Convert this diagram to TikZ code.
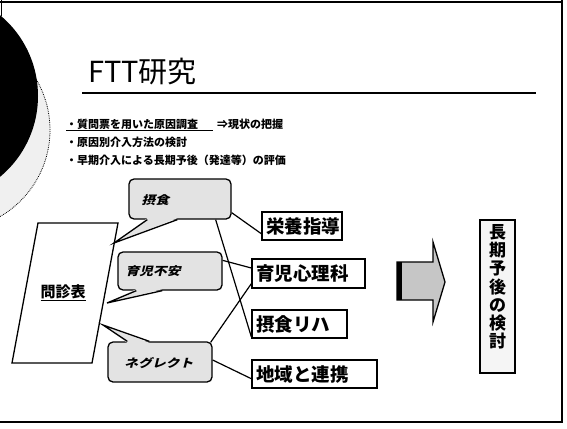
\documentclass[tikz,border=0pt]{standalone}
\usepackage{fontspec}
\setmainfont{Noto Sans CJK JP}
\usetikzlibrary{calc}
\begin{document}
\begin{tikzpicture}[x=1pt,y=-1pt,
  lw/.style={line width=1.3pt},
  bubble/.style={draw, line width=1.3pt, rounded corners=5pt, fill=gray!22, minimum height=40pt, inner sep=0pt},
  btext/.style={anchor=west, inner sep=0pt, xslant=0.25, xscale=1.2, transform shape, font=\bfseries\fontsize{11.5}{12}\selectfont},
  jbox/.style={draw, line width=1.4pt, fill=white, minimum height=28pt, inner ysep=0pt, inner xsep=4pt, align=left, font=\bfseries\fontsize{18.5}{20}\selectfont},
  conn/.style={line width=1.2pt},
  bullet/.style={anchor=west, inner sep=0pt, font=\bfseries\fontsize{11}{12}\selectfont},
]
\useasboundingbox (0,0) rectangle (567,428);

% decorative circle
\begin{scope}
  \clip (0,0) rectangle (567,428);
  \draw[fill=gray!12, densely dotted, line width=0.8pt] (-50,130) circle (100pt);
  \fill[black] (-67,96) circle (105pt);
\end{scope}

% frame
\draw[line width=2.5pt] (0,2) -- (563,2);
\draw[line width=2.2pt] (562,0) -- (562,423);
\draw[line width=2.8pt] (0,422) -- (563,422);
\draw[line width=0.8pt] (1,0) -- (1,16);

% title
\node[anchor=base west, inner sep=0pt, font=\fontsize{29}{30}\selectfont] (title) at (88,82) {FTT研究};
\draw[line width=1.2pt] (82,93) -- (536,93);

% bullets
\node[bullet] (bl1) at (66,125) {\underline{・質問票を用いた原因調査\hspace{15pt}}\hspace{4pt}⇒現状の把握};
\node[bullet] (bl2) at (66,142) {・原因別介入方法の検討};
\node[bullet] (bl3) at (66,160) {・早期介入による長期予後（発達等）の評価};

% questionnaire parallelogram
\coordinate (m1) at (38,223);
\coordinate (m2) at (118,223);
\coordinate (m3) at (92,363);
\coordinate (m4) at (12,363);
\draw[lw, fill=white] (m1) -- (m2) -- (m3) -- (m4) -- cycle;
\node[font=\bfseries\fontsize{15}{16}\selectfont, inner sep=0pt] (monshin) at (63,293) {\underline{問診表}};

% callouts
\node[bubble, minimum width=102pt] (b1) at (180,199) {};
\node[bubble, minimum width=104pt, minimum height=38pt] (b2) at (170,271) {};
\node[bubble, minimum width=104pt] (b3) at (160,362) {};

\coordinate (t1) at (114,243);
\coordinate (t2) at (107,303);
\coordinate (t3) at (103,325);

\fill[gray!22] ($(b1.south west)+(19,-1.5)$) -- (t1) -- ($(b1.south west)+(49,-1.5)$) -- cycle;
\draw[lw] ($(b1.south west)+(19,0)$) -- (t1) -- ($(b1.south west)+(49,0)$);
\fill[gray!22] ($(b2.south west)+(19,-1.5)$) -- (t2) -- ($(b2.south west)+(45,-1.5)$) -- cycle;
\draw[lw] ($(b2.south west)+(19,0)$) -- (t2) -- ($(b2.south west)+(45,0)$);
\fill[gray!22] ($(b3.north west)+(20,1.5)$) -- (t3) -- ($(b3.north west)+(42,1.5)$) -- cycle;
\draw[lw] ($(b3.north west)+(20,0)$) -- (t3) -- ($(b3.north west)+(42,0)$);

\node[btext] (b1t) at ($(b1.west)+(14,1)$) {摂食};
\node[btext] (b2t) at ($(b2.west)+(9,0)$) {育児不安};
\node[btext] (b3t) at ($(b3.west)+(18,1)$) {ネグレクト};

% right boxes
\node[jbox, text width=72pt] (eiyou) at (302,226) {栄養指導};
\node[jbox, text width=105pt, minimum height=29pt] (shinri) at (308.5,273.5) {育児心理科};
\node[jbox, text width=87pt] (riha) at (299.5,324) {摂食リハ};
\node[jbox, text width=117pt] (chiiki) at (314.5,374) {地域と連携};

% connectors
\draw[conn] ($(b1.south east)+(0,-7)$) -- ($(eiyou.south west)+(0,-7)$);
\draw[conn] ($(b1.south east)+(-16,0)$) -- ($(riha.south west)+(0,-2)$);
\draw[conn] ($(b2.north east)+(0,9)$) -- ($(shinri.west)+(0,-5.5)$);
\draw[conn] ($(b3.north east)+(-2,1)$) -- ($(shinri.south west)+(0,-5)$);
\draw[conn] ($(b3.east)+(0,-2)$) -- ($(chiiki.south west)+(0,-10)$);

% big arrow
\draw[lw, fill=gray!45] (397,262) -- (433,262) -- (433,242) -- (445,282) -- (433,322) -- (433,300) -- (397,300) -- cycle;
\fill[black] (397,262) rectangle (402,300);

% vertical box
\node[draw, line width=1.3pt, fill=gray!8, minimum width=35pt, minimum height=153pt, inner sep=0pt] (kentou) at (497.5,296.5) {};
\node[anchor=north, inner sep=0pt, align=center, font=\bfseries\fontsize{17}{18.2}\selectfont] (kentoutext) at ($(kentou.north)+(0,5)$) {長\\期\\予\\後\\の\\検\\討};
\end{tikzpicture}
\end{document}
